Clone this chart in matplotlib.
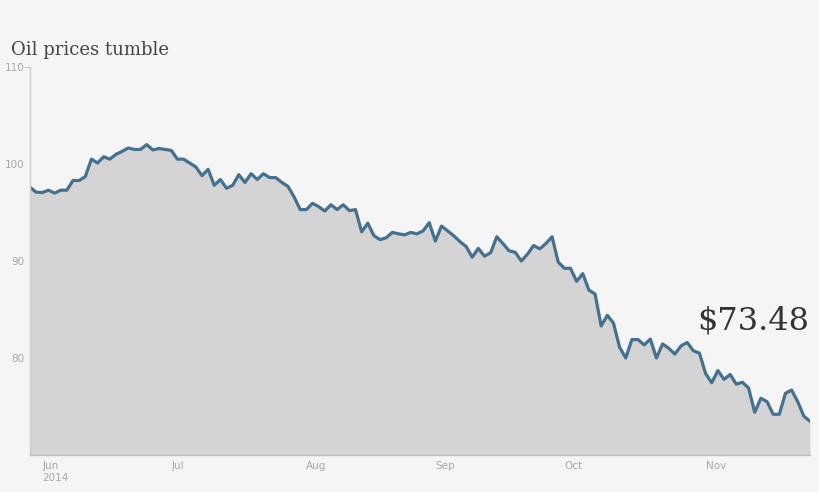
import numpy as np
import pandas as pd
import matplotlib
matplotlib.use("Agg")
import matplotlib.pyplot as plt
from matplotlib import font_manager

# Prix du pétrole, jours de bourse du 29 mai au 26 novembre 2014
holidays = ["2014-07-04", "2014-09-01"]
dates = pd.bdate_range("2014-05-29", "2014-11-26").drop(pd.to_datetime(holidays))

prices = [
    97.6, 97.1, 97.05, 97.3, 97.0, 97.3, 97.3, 98.3, 98.3, 98.7,
    100.5, 100.1, 100.75, 100.5, 101.0, 101.3, 101.65, 101.5, 101.5, 102.0,
    101.45, 101.6, 101.5, 101.4, 100.5, 100.5,
    100.1, 99.7, 98.8, 99.45, 97.8, 98.4, 97.5, 97.8, 98.9, 98.1,
    99.0, 98.4, 99.0, 98.6, 98.6, 98.1, 97.7, 96.6, 95.3, 95.3,
    95.95, 95.6, 95.15, 95.8, 95.3, 95.8, 95.2, 95.3,
    93.0, 93.9, 92.6, 92.2, 92.4, 92.95, 92.8, 92.7, 92.95, 92.8,
    93.1, 93.95, 92.05, 93.6, 93.1, 92.6, 92.0, 91.5, 90.4, 91.3,
    90.5, 90.85, 92.5, 91.8, 91.05, 90.9, 90.0, 90.7, 91.6, 91.25,
    91.8, 92.5, 89.9, 89.25, 89.25, 87.9, 88.7, 87.0, 86.6, 83.3,
    84.4, 83.6, 81.1, 80.0,
    81.9, 81.9, 81.35, 81.95, 80.0, 81.45, 81.0, 80.4, 81.25, 81.6,
    80.75, 80.5, 78.4, 77.45, 78.7, 77.8, 78.3, 77.3, 77.5, 76.9,
    74.4, 75.85, 75.5, 74.2, 74.2, 76.35, 76.7, 75.5, 74.0, 73.48,
]

y_ticks = [80, 90, 100, 110]
title = "Oil prices tumble"

bg = "#f5f5f5"
fill_color = "#d4d4d4"
line_color = "#44718f"
grey_text = "#a8a8a8"

names = {f.name for f in font_manager.fontManager.ttflist}
narrow = "Liberation Sans Narrow" if "Liberation Sans Narrow" in names else "DejaVu Sans"

x = np.arange(len(prices))

fig = plt.figure(figsize=(8.2, 4.92), dpi=100, facecolor=bg)
ax = fig.add_axes([30 / 820, 37 / 492, 780 / 820, 388 / 492], facecolor=bg)

ax.fill_between(x, prices, 70, color=fill_color, linewidth=0)
ax.plot(x, prices, color=line_color, linewidth=2.3, solid_joinstyle="round")

ax.set_xlim(0, len(prices) - 1)
ax.set_ylim(70, 110)

# graduations du mois : premier jour de bourse de chaque mois
month_pos = [i for i in range(1, len(dates)) if dates[i].month != dates[i - 1].month]
month_lab = [dates[i].strftime("%b") for i in month_pos]
month_lab[0] = month_lab[0] + "\n" + dates[month_pos[0]].strftime("%Y")
ax.set_xticks(month_pos)
ax.set_xticklabels(month_lab, ha="left", va="top", color=grey_text,
                   fontsize=7.5, family=narrow, linespacing=1.3)
ax.tick_params(axis="x", length=0, pad=4)

ax.set_yticks(y_ticks)
ax.set_yticklabels([str(v) for v in y_ticks], color=grey_text, fontsize=7.5, family=narrow)
ax.tick_params(axis="y", length=0, pad=4)
top_tick = ax.yaxis.get_major_ticks()[-1]
top_tick.tick1line.set_markersize(4)
top_tick.tick1line.set_markeredgecolor("#c8c8c8")

for side in ["top", "right"]:
    ax.spines[side].set_visible(False)
ax.spines["left"].set_color("#cccccc")
ax.spines["bottom"].set_color("#bdbdbd")
ax.spines["left"].set_linewidth(1)
ax.spines["bottom"].set_linewidth(1)

# étiquette du dernier prix
last = len(prices) - 1
ax.vlines(last, prices[-1], 81.9, colors="#b0b0b0", linestyles=(0, (1, 2)), linewidth=0.8)
ax.text(last - 0.2, 82.2, f"${prices[-1]:.2f}", ha="right", va="bottom",
        fontsize=23, family="DejaVu Serif", color="#333333")

fig.text(11 / 820, 1 - 55 / 492, title, ha="left", va="baseline",
         fontsize=13, family="DejaVu Serif", color="#444444")

fig.savefig("out.png", dpi=100, facecolor=bg)
